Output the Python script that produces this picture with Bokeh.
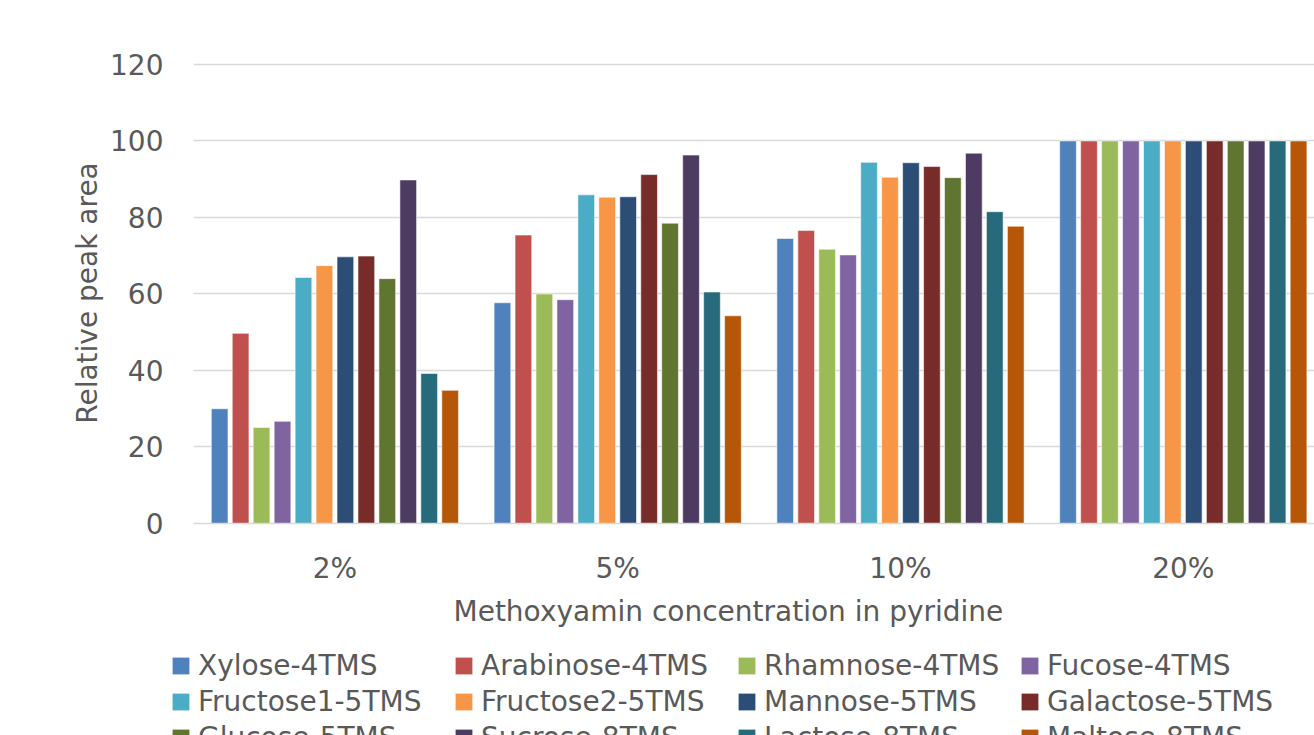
from bokeh.plotting import figure
from bokeh.layouts import column
from bokeh.models import (ColumnDataSource, Range1d, FixedTicker, Legend, LegendItem, Title)
from bokeh.embed import file_html
from bokeh.resources import INLINE

# Methoxyamine concentration groups
categories = ["2%", "5%", "10%", "20%"]

series = ["Xylose-4TMS", "Arabinose-4TMS", "Rhamnose-4TMS", "Fucose-4TMS",
          "Fructose1-5TMS", "Fructose2-5TMS", "Mannose-5TMS", "Galactose-5TMS",
          "Glucose-5TMS", "Sucrose-8TMS", "Lactose-8TMS", "Maltose-8TMS"]

# relative peak area per derivative, one value per concentration
xylose = [30.0, 57.7, 74.5, 100]
arabinose = [49.7, 75.4, 76.6, 100]
rhamnose = [25.1, 60.0, 71.7, 100]
fucose = [26.7, 58.5, 70.2, 100]
fructose1 = [64.3, 85.9, 94.4, 100]
fructose2 = [67.4, 85.3, 90.5, 100]
mannose = [69.7, 85.4, 94.3, 100]
galactose = [69.9, 91.2, 93.3, 100]
glucose = [64.0, 78.5, 90.4, 100]
sucrose = [89.8, 96.3, 96.8, 100]
lactose = [39.2, 60.5, 81.5, 100]
maltose = [34.8, 54.3, 77.7, 100]

values = [xylose, arabinose, rhamnose, fucose, fructose1, fructose2,
          mannose, galactose, glucose, sucrose, lactose, maltose]

colors = ["#4F81BD", "#C0504D", "#9BBB59", "#8064A2", "#4BACC6", "#F79646",
          "#2C4D75", "#772C2A", "#5F7530", "#4D3B62", "#276A7C", "#B65708"]

y_ticks = [0, 20, 40, 60, 80, 100, 120]

TEXT = "#595959"
GRID = "#d9d9d9"
FONT = "DejaVu Sans"
FS = "28px"

# main chart
p = figure(width=1314, height=640, output_backend="svg", toolbar_location=None,
           x_range=Range1d(0, 3.964), y_range=Range1d(0, 120.5),
           min_border_left=193, min_border_right=0, min_border_top=62,
           min_border_bottom=117)
p.frame_align = False
p.outline_line_color = None
p.background_fill_color = "white"
p.border_fill_color = "white"

pitch = 0.0741
bar_w = 0.059
n = len(series)
for j, (name, vals, col) in enumerate(zip(series, values, colors)):
    xs = [i + 0.5 + (j - (n - 1) / 2) * pitch for i in range(len(categories))]
    src = ColumnDataSource(dict(x=xs, top=vals))
    p.vbar(x="x", top="top", width=bar_w, source=src, fill_color=col,
           line_color="white", line_alpha=0.55, line_width=1)

p.xaxis.ticker = FixedTicker(ticks=[i + 0.5 for i in range(len(categories))])
p.xaxis.major_label_overrides = {i + 0.5: c for i, c in enumerate(categories)}
p.yaxis.ticker = FixedTicker(ticks=y_ticks)
p.yaxis.axis_label = "Relative peak area"

for ax in (p.xaxis, p.yaxis):
    ax.major_tick_line_color = None
    ax.minor_tick_line_color = None
    ax.major_tick_out = 0
    ax.major_tick_in = 0
    ax.major_label_text_font = FONT
    ax.major_label_text_font_size = FS
    ax.major_label_text_color = TEXT
    ax.axis_label_text_font = FONT
    ax.axis_label_text_font_size = FS
    ax.axis_label_text_color = TEXT
    ax.axis_label_text_font_style = "normal"

p.xaxis.axis_line_color = GRID
p.xaxis.axis_line_width = 1.3
p.yaxis.axis_line_color = None
p.xaxis.major_label_standoff = 28
p.yaxis.major_label_standoff = 30
p.yaxis.axis_label_standoff = 3

# x axis title, placed a little left of the plot centre
xtitle = Title(text="Methoxyamin concentration in pyridine", align="left",
               offset=260, standoff=11, text_font=FONT, text_font_size=FS,
               text_font_style="normal", text_color=TEXT)
p.add_layout(xtitle, "below")

p.xgrid.grid_line_color = None
p.ygrid.grid_line_color = GRID
p.ygrid.grid_line_width = 1.3

# legend strip under the chart
lf = figure(width=1314, height=95, output_backend="svg", toolbar_location=None,
            x_range=Range1d(0, 1), y_range=Range1d(0, 1),
            x_axis_location=None, y_axis_location=None,
            min_border=0, min_border_left=0, min_border_right=0,
            min_border_top=0, min_border_bottom=0)
lf.frame_align = False
lf.outline_line_color = None
lf.xgrid.visible = False
lf.ygrid.visible = False

# one off-screen swatch per series so each legend key has a glyph to draw
items = []
for name, col in zip(series, colors):
    r = lf.vbar(x=[-5], top=[-5], bottom=[-6], width=1, fill_color=col,
                line_color=None)
    items.append(LegendItem(label=name, renderers=[r]))

legend = Legend(items=items, ncols=4, orientation="horizontal",
                location=(170, -20),
                glyph_width=21, glyph_height=21, label_standoff=7,
                label_width=255, label_height=36, spacing=0, padding=0,
                margin=0, border_line_color=None, background_fill_alpha=0,
                label_text_font=FONT, label_text_font_size=FS,
                label_text_color=TEXT)
lf.add_layout(legend, "center")

layout = column(p, lf, spacing=0)
open("out.html", "w").write(file_html(layout, INLINE))
